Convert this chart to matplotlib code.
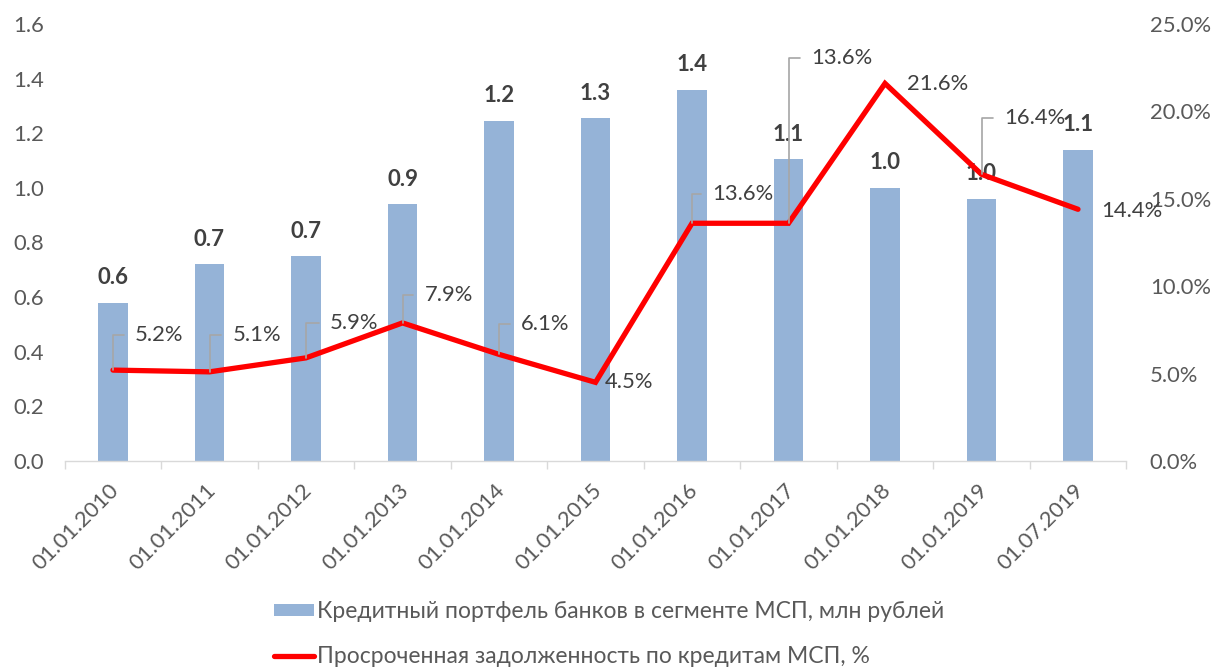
import matplotlib
matplotlib.use("Agg")
import matplotlib.pyplot as plt
import matplotlib.transforms as mtransforms
from matplotlib.ticker import FuncFormatter, FixedLocator
from matplotlib.lines import Line2D
from matplotlib.patches import Patch

plt.rcParams['font.family'] = ['Lato', 'Open Sans', 'DejaVu Sans']

# ---- data ----
dates = ["01.01.2010", "01.01.2011", "01.01.2012", "01.01.2013", "01.01.2014",
         "01.01.2015", "01.01.2016", "01.01.2017", "01.01.2018", "01.01.2019",
         "01.07.2019"]
portfolio = [0.58, 0.72, 0.75, 0.94, 1.245, 1.255, 1.36, 1.105, 1.0, 0.96, 1.14]
portfolio_labels = ["0.6", "0.7", "0.7", "0.9", "1.2", "1.3", "1.4", "1.1", "1.0", "1.0", "1.1"]
overdue = [5.2, 5.1, 5.9, 7.9, 6.1, 4.5, 13.6, 13.6, 21.6, 16.4, 14.4]
overdue_labels = ["5.2%", "5.1%", "5.9%", "7.9%", "6.1%", "4.5%", "13.6%", "13.6%",
                  "21.6%", "16.4%", "14.4%"]
legend_labels = ["Кредитный портфель банков в сегменте МСП, млн рублей",
                 "Просроченная задолженность по кредитам МСП, %"]

# ---- layout / style ----
label_offsets = [(22, 35), (23, 37), (24, 35), (22, 28), (22, 30), (9, 0),
                 (20, 29), (23, 165), (22, -1), (23, 56), (23, -2)]
has_leader = [True, True, True, True, True, False, True, True, False, True, False]

BAR_C = "#95B3D7"
LINE_C = "#FF0000"
TXT = "#595959"
DARK = "#404040"
FS = 15.8

fig = plt.figure(figsize=(12.11, 6.69), dpi=100)
ax = fig.add_axes([64.75 / 1211, 1 - 461 / 669, (1126.25 - 64.75) / 1211, (461 - 24) / 669])
x = list(range(len(dates)))

ax.bar(x, portfolio, width=0.31, color=BAR_C, zorder=2)
ax.set_xlim(-0.5, len(dates) - 0.5)
ax.set_ylim(0, 1.6)
ax.set_yticks([0.0, 0.2, 0.4, 0.6, 0.8, 1.0, 1.2, 1.4, 1.6])
ax.yaxis.set_major_formatter(FuncFormatter(lambda v, p: f"{v:.1f}"))
ax.tick_params(axis='y', length=0, pad=15, labelsize=FS, labelcolor=TXT)

for s in ['top', 'left', 'right']:
    ax.spines[s].set_visible(False)
ax.spines['bottom'].set_color('#D9D9D9')
ax.spines['bottom'].set_linewidth(1.0)

ax.set_xticks(x)
ax.set_xticklabels(dates, rotation=45, ha='right', rotation_mode='anchor',
                   fontsize=FS, color=TXT)
ax.tick_params(axis='x', which='major', length=0, pad=14)
shift = mtransforms.ScaledTranslation(-4 / 100, 0, fig.dpi_scale_trans)
for t in ax.get_xticklabels():
    t.set_transform(t.get_transform() + shift)
ax.xaxis.set_minor_locator(FixedLocator([i - 0.5 for i in range(len(dates) + 1)]))
ax.tick_params(axis='x', which='minor', length=6, color='#D9D9D9', width=1.0)

for xi, h, lab in zip(x, portfolio, portfolio_labels):
    ax.annotate(lab, (xi, h), xytext=(0, 25), textcoords='offset pixels',
                ha='center', va='center', fontsize=16, fontweight='bold', color=DARK,
                zorder=3)

ax2 = ax.twinx()
ax2.set_ylim(0, 25)
ax2.set_yticks([0, 5, 10, 15, 20, 25])
ax2.yaxis.set_major_formatter(FuncFormatter(lambda v, p: f"{v:.1f}%"))
ax2.tick_params(axis='y', length=0, pad=17, labelsize=FS, labelcolor=TXT)
for s in ['top', 'left', 'right', 'bottom']:
    ax2.spines[s].set_visible(False)

ax2.plot(x, overdue, color=LINE_C, lw=3.8, solid_capstyle='round',
         solid_joinstyle='miter', zorder=4)

for xi, v, lab, off, lead in zip(x, overdue, overdue_labels, label_offsets, has_leader):
    kw = {}
    if lead:
        kw['arrowprops'] = dict(arrowstyle='-', color='#A6A6A6', lw=1.2,
                                connectionstyle='angle,angleA=0,angleB=90,rad=0',
                                relpos=(0, 0.5), shrinkA=6, shrinkB=0)
    ax2.annotate(lab, (xi, v), xytext=off, textcoords='offset pixels',
                 ha='left', va='center', fontsize=FS, color=DARK, zorder=5, **kw)

handles = [Patch(facecolor=BAR_C, edgecolor='none'),
           Line2D([0], [0], color=LINE_C, lw=3.8, solid_capstyle='round')]
fig.legend(handles, legend_labels, loc='center', bbox_to_anchor=(0.503, 0.052),
           ncol=1, frameon=False, fontsize=16.5, labelcolor=TXT, handlelength=1.75,
           handleheight=0.45, handletextpad=0.1, labelspacing=1.05)

fig.savefig("out.png", dpi=100)
